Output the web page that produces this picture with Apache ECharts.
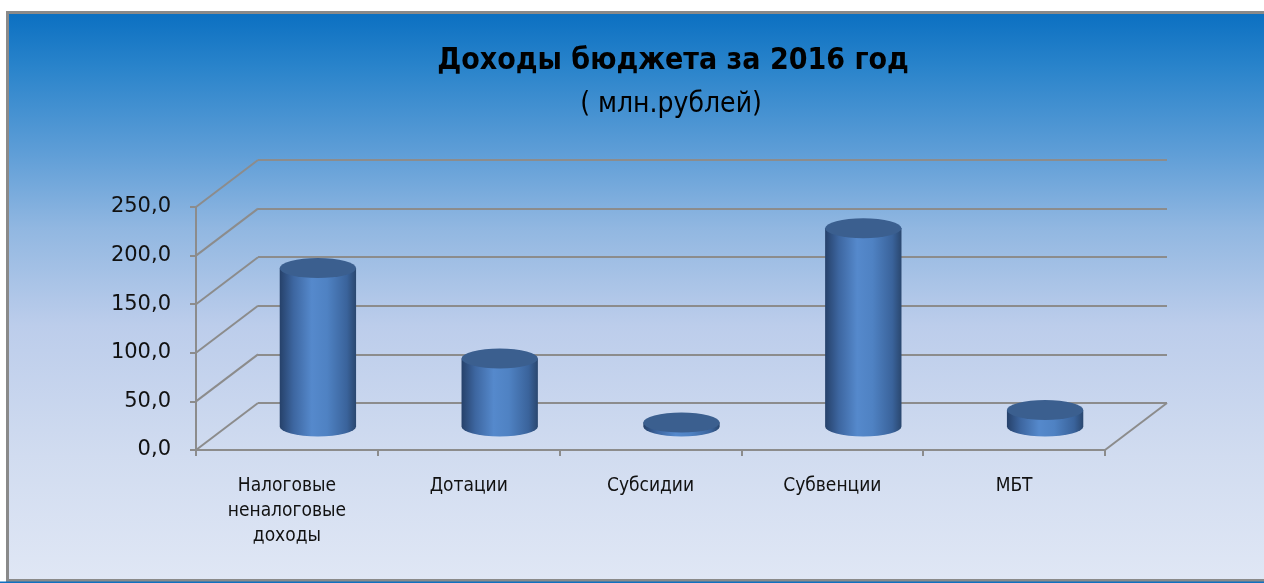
<!DOCTYPE html>
<html>
<head>
<meta charset="utf-8">
<title>Доходы бюджета за 2016 год</title>
<script src="https://cdn.jsdelivr.net/npm/echarts@6/dist/echarts.min.js"></script>
<style>
  html, body { margin: 0; padding: 0; background: #fff; }
  #main { width: 1264px; height: 583px; }
</style>
</head>
<body>
<div id="main"></div>
<script>
// данные
var categories = ['Налоговые\nненалоговые\nдоходы', 'Дотации', 'Субсидии', 'Субвенции', 'МБТ'];
var values = [163, 70, 4, 204, 17];
var yTicks = [0, 50, 100, 150, 200, 250];

var DX = 62, DY = -47;   // смещение задней стенки
var narrow = '"Liberation Sans Narrow", "DejaVu Sans Condensed", sans-serif';
var gridColor = '#8c8c8c';

var chart = echarts.init(document.getElementById('main'));

function ellipsePath(cx, cy, rx, ry) {
  return 'M' + (cx - rx) + ',' + cy +
    ' A' + rx + ',' + ry + ' 0 1 0 ' + (cx + rx) + ',' + cy +
    ' A' + rx + ',' + ry + ' 0 1 0 ' + (cx - rx) + ',' + cy + ' Z';
}

// цилиндры
function renderCylinder(params, api) {
  var idx = api.value(0);
  var top = api.coord([idx, api.value(1)]);
  var base = api.coord([idx, 0]);
  var w = api.size([1, 0])[0] * 0.42;
  var rx = w / 2, ry = 10;
  var cx = top[0] + DX / 2;
  var yt = top[1] + DY / 2;
  var yb = base[1] + DY / 2;
  var l = cx - rx, r = cx + rx;
  var body = 'M' + l + ',' + yt + ' L' + l + ',' + yb +
    ' A' + rx + ',' + ry + ' 0 0 0 ' + r + ',' + yb +
    ' L' + r + ',' + yt + ' Z';
  return {
    type: 'group',
    children: [
      {
        type: 'path',
        shape: { pathData: body },
        style: {
          fill: new echarts.graphic.LinearGradient(0, 0, 1, 0, [
            { offset: 0, color: '#26416a' },
            { offset: 0.18, color: '#3d66a0' },
            { offset: 0.42, color: '#5589cc' },
            { offset: 0.62, color: '#4f82c3' },
            { offset: 0.88, color: '#3a639b' },
            { offset: 1, color: '#2a476f' }
          ])
        }
      },
      {
        type: 'path',
        shape: { pathData: ellipsePath(cx, yt, rx, ry) },
        style: { fill: '#3b5f8f' }
      }
    ]
  };
}

// диагонали боковой стенки и правый край пола
function renderWall(params, api) {
  var cs = params.coordSys;
  var y = api.coord([0, api.value(0)])[1];
  var kids = [{
    type: 'line',
    shape: { x1: cs.x, y1: y, x2: cs.x + DX, y2: y + DY },
    style: { stroke: gridColor, lineWidth: 2 }
  }];
  if (api.value(0) === 0) {
    kids.push({
      type: 'line',
      shape: { x1: cs.x + cs.width, y1: y, x2: cs.x + cs.width + DX, y2: y + DY },
      style: { stroke: gridColor, lineWidth: 2 }
    });
  }
  return { type: 'group', children: kids };
}

var option = {
  backgroundColor: '#ffffff',
  animation: false,
  graphic: [
    {
      type: 'rect', z: -10, silent: true,
      shape: { x: 7.5, y: 12.5, width: 1270, height: 568 },
      style: {
        stroke: '#8a8a8a', lineWidth: 3,
        fill: new echarts.graphic.LinearGradient(0, 0, 0, 1, [
          { offset: 0, color: '#0a6fc1' },
          { offset: 0.1, color: '#2a84cb' },
          { offset: 0.25, color: '#5f9ed7' },
          { offset: 0.38, color: '#91b7e1' },
          { offset: 0.55, color: '#bccdeb' },
          { offset: 0.78, color: '#d1dcf0' },
          { offset: 1, color: '#e0e7f5' }
        ])
      }
    },
    {
      type: 'rect', z: -10, silent: true,
      shape: { x: 0, y: 581.5, width: 1264, height: 2 },
      style: { fill: '#1070c0' }
    },
    {
      type: 'text', x: 673, y: 61, z: 10,
      style: {
        text: 'Доходы бюджета за 2016 год',
        fill: '#000', textAlign: 'center', textVerticalAlign: 'middle',
        font: 'bold 30px ' + narrow
      }
    },
    {
      type: 'text', x: 671, y: 105, z: 10,
      style: {
        text: '( млн.рублей)',
        fill: '#000', textAlign: 'center', textVerticalAlign: 'middle',
        font: '28px ' + narrow
      }
    }
  ],
  grid: [
    { left: 196, top: 207, right: 159, bottom: 133 },
    { left: 196 + DX, top: 207 + DY, right: 159 - DX, bottom: 133 - DY }
  ],
  xAxis: [
    {
      gridIndex: 0, type: 'category', data: categories,
      axisLine: { lineStyle: { color: gridColor, width: 2 } },
      axisTick: { show: true, length: 6, lineStyle: { color: gridColor, width: 2 } },
      axisLabel: {
        interval: 0, margin: 24, color: '#111',
        fontFamily: narrow, fontSize: 19, lineHeight: 25
      }
    },
    { gridIndex: 1, type: 'category', data: categories, show: false }
  ],
  yAxis: [
    {
      gridIndex: 0, type: 'value', min: 0, max: 250, interval: 50,
      axisLine: { show: true, lineStyle: { color: gridColor, width: 2 } },
      axisTick: { show: true, length: 6, lineStyle: { color: gridColor, width: 2 } },
      splitLine: { show: false },
      axisLabel: {
        margin: 25, color: '#111', fontFamily: 'DejaVu Sans', fontSize: 21,
        padding: [4, 0, 0, 0],
        formatter: function (v) { return v.toFixed(1).replace('.', ','); }
      }
    },
    {
      gridIndex: 1, type: 'value', min: 0, max: 250, interval: 50,
      axisLine: { show: false }, axisTick: { show: false }, axisLabel: { show: false },
      splitLine: { show: true, lineStyle: { color: gridColor, width: 2 } }
    }
  ],
  series: [
    {
      type: 'custom', xAxisIndex: 0, yAxisIndex: 0, z: 1,
      renderItem: renderWall,
      data: yTicks.map(function (t) { return [t]; })
    },
    {
      type: 'custom', xAxisIndex: 0, yAxisIndex: 0, z: 5,
      renderItem: renderCylinder,
      data: values.map(function (v, i) { return [i, v]; })
    }
  ]
};

chart.setOption(option);
</script>
</body>
</html>
